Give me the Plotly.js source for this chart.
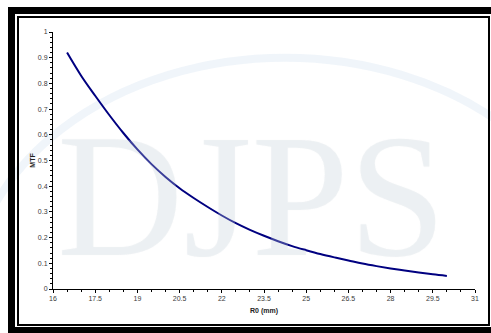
<!DOCTYPE html>
<html>
<head>
<meta charset="utf-8">
<script src="https://cdn.plot.ly/plotly-3.0.1.min.js"></script>
<style>
  html, body { margin: 0; padding: 0; background: #ffffff; }
  #wrap { position: relative; width: 491px; height: 333px; overflow: hidden; background: #ffffff; }
  #chart { position: absolute; left: 0; top: 0; width: 491px; height: 333px; }
  .b { position: absolute; background: #000000; }
</style>
</head>
<body>
<div id="wrap">
  <div id="chart"></div>
  <!-- thick outer frame -->
  <div class="b" style="left:8px; top:7px; width:483px; height:7px;"></div>
  <div class="b" style="left:8px; top:7px; width:7px; height:326px;"></div>
  <div class="b" style="left:8px; top:327px; width:483px; height:6px;"></div>
  <!-- thin inner frame -->
  <div class="b" style="left:17px; top:16px; width:473px; height:2px;"></div>
  <div class="b" style="left:17px; top:16px; width:2px; height:310px;"></div>
  <div class="b" style="left:17px; top:324px; width:473px; height:2px;"></div>
  <div class="b" style="left:488px; top:16px; width:2px; height:310px;"></div>
</div>
<script>
// R0 (mm) positions and MTF values
const r0 = [16.5, 17, 17.5, 18, 18.5, 19, 19.5, 20, 20.5, 21, 21.5, 22, 22.5, 23, 23.5, 24, 24.5, 25, 25.5, 26, 26.5, 27, 27.5, 28, 28.5, 29, 29.5, 30];
const mtf = [0.92, 0.83, 0.752, 0.677, 0.607, 0.543, 0.486, 0.436, 0.392, 0.354, 0.319, 0.286, 0.256, 0.23, 0.207, 0.186, 0.167, 0.151, 0.136, 0.123, 0.111, 0.099, 0.089, 0.08, 0.072, 0.064, 0.057, 0.051];
const xTicks = [16, 17.5, 19, 20.5, 22, 23.5, 25, 26.5, 28, 29.5, 31];
const yTicks = [0, 0.1, 0.2, 0.3, 0.4, 0.5, 0.6, 0.7, 0.8, 0.9, 1];

const tickFont = { family: 'Liberation Sans, Arial, sans-serif', size: 7, color: '#3a3a3a' };
const titleFont = { family: 'Liberation Sans, Arial, sans-serif', size: 7, color: '#222222', weight: 'bold' };

const trace = {
  x: r0, y: mtf, type: 'scatter', mode: 'lines',
  line: { color: '#000080', width: 2, shape: 'spline', smoothing: 1 },
  hoverinfo: 'none'
};

const layout = {
  width: 491, height: 333,
  margin: { l: 53, r: 16, t: 32, b: 44, pad: 0 },
  paper_bgcolor: 'rgba(0,0,0,0)',
  plot_bgcolor: 'rgba(0,0,0,0)',
  showlegend: false,
  xaxis: {
    range: [16, 31], tickmode: 'array', tickvals: xTicks, ticktext: xTicks.map(String),
    showgrid: false, zeroline: false, showline: true, linecolor: '#000000', linewidth: 1,
    ticks: 'outside', ticklen: 3, tickcolor: '#000000', tickwidth: 1,
    minor: { dtick: 0.5, ticks: 'outside', ticklen: 2, tickcolor: '#000000', showgrid: false },
    tickfont: tickFont,
    title: { text: 'R0 (mm)', font: titleFont, standoff: 6 }
  },
  yaxis: {
    range: [0, 1], tickmode: 'array', tickvals: yTicks, ticktext: yTicks.map(String),
    showgrid: false, zeroline: false, showline: true, linecolor: '#000000', linewidth: 1,
    ticks: 'outside', ticklen: 3, tickcolor: '#000000', tickwidth: 1,
    minor: { dtick: 0.02, ticks: 'outside', ticklen: 2, tickcolor: '#000000', showgrid: false },
    tickfont: tickFont,
    title: { text: 'MTF', font: titleFont, standoff: 1 }
  },
  annotations: [
    { text: 'DJPS', xref: 'paper', yref: 'paper', x: 0.47, y: 0.36, showarrow: false,
      font: { family: 'Liberation Serif, serif', size: 175, color: 'rgba(215,222,232,0.22)',
              shadow: '0 0 1px rgba(150,160,175,0.5)' } }
  ],
  shapes: [
    { type: 'circle', xref: 'paper', yref: 'paper', x0: -0.2, x1: 1.3, y0: -1.0, y1: 0.9,
      line: { color: 'rgba(180,205,230,0.2)', width: 8 }, layer: 'below' }
  ]
};

Plotly.newPlot('chart', [trace], layout, { staticPlot: true, displayModeBar: false });
</script>
</body>
</html>
